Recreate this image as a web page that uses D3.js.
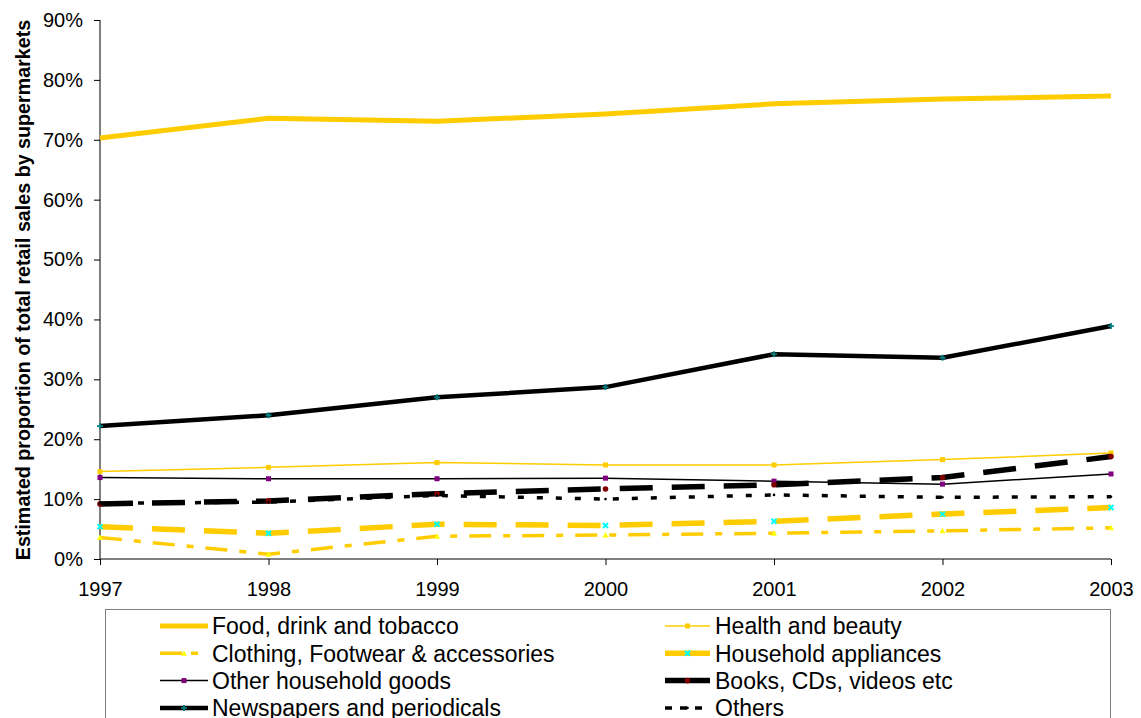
<!DOCTYPE html>
<html><head><meta charset="utf-8">
<script src="https://cdn.jsdelivr.net/npm/d3@7"></script>
<style>body{margin:0;background:#fff}svg{display:block}text{font-family:"Liberation Sans",Arial,sans-serif}</style>
</head><body>
<svg id="c" width="1141" height="718"></svg>
<script>
const years = [1997,1998,1999,2000,2001,2002,2003];
const yTicks = [0,10,20,30,40,50,60,70,80,90];
const food = [70.3,73.6,73.1,74.3,76.0,76.8,77.3];
const health = [14.6,15.3,16.1,15.7,15.7,16.6,17.7];
const clothing = [3.6,0.8,3.8,4.0,4.3,4.7,5.2];
const appliances = [5.4,4.3,5.8,5.6,6.3,7.5,8.6];
const otherHousehold = [13.6,13.4,13.4,13.5,13.0,12.5,14.2];
const books = [9.2,9.7,10.9,11.7,12.4,13.6,17.1];
const newspapers = [22.2,24.0,27.0,28.7,34.2,33.6,38.9];
const others = [9.3,9.5,10.6,10.0,10.7,10.3,10.4];
const seriesNames = ["Food, drink and tobacco","Health and beauty","Clothing, Footwear & accessories","Household appliances","Other household goods","Books, CDs, videos etc","Newspapers and periodicals","Others"];

const GOLD="#FFCC00";
const series = [
  {name:seriesNames[0], v:food, color:GOLD, w:5, dash:null, ldash:null, marker:null},
  {name:seriesNames[1], v:health, color:GOLD, w:1.5, dash:null, ldash:null, marker:"square", mc:GOLD},
  {name:seriesNames[2], v:clothing, color:GOLD, w:3.5, dash:"22,12,7,12", ldash:"22,9,7,60", marker:"triangle", mc:"#FFFF00"},
  {name:seriesNames[3], v:appliances, color:GOLD, w:5.5, dash:"33,19", ldash:null, marker:"x", mc:"#00FFFF"},
  {name:seriesNames[4], v:otherHousehold, color:"#000", w:1.5, dash:null, ldash:null, marker:"square", mc:"#800080"},
  {name:seriesNames[5], v:books, color:"#000", w:5.5, dash:"33,19", ldash:null, marker:"circle", mc:"#800000"},
  {name:seriesNames[6], v:newspapers, color:"#000", w:4.5, dash:null, ldash:null, marker:"plus", mc:"#008080"},
  {name:seriesNames[7], v:others, color:"#000", w:3.5, dash:"6,13", ldash:"7,8", marker:"dot", mc:"#000"}
];

const svg = d3.select("#c");
const x = d3.scaleLinear().domain([1997,2003]).range([100,1111]);
const y = d3.scaleLinear().domain([0,90]).range([559,20]);

// axes
const yAxis = d3.axisLeft(y).tickValues(yTicks).tickSize(6).tickFormat(d=>d+"%");
const gy = svg.append("g").attr("transform","translate(100,0)").call(yAxis);
gy.select(".domain").attr("stroke","#000").attr("d","M0,20V559");
gy.selectAll("text").attr("font-size",20).attr("fill","#000").attr("x",-17);
const xAxis = d3.axisBottom(x).tickValues(years).tickSize(6).tickFormat(d3.format("d"));
const gx = svg.append("g").attr("transform","translate(0,559)").call(xAxis);
gx.select(".domain").attr("stroke","#000").attr("d","M100,0H1111");
gx.selectAll("text").attr("font-size",20).attr("fill","#000").attr("y",37).attr("dy",null);

svg.append("text").attr("transform","translate(30,290) rotate(-90)").attr("text-anchor","middle")
  .attr("font-size",19.7).attr("font-weight","bold").text("Estimated proportion of total retail sales by supermarkets");

function drawMarker(g, type, cx, cy, c){
  if(!type) return;
  if(type==="square") g.append("rect").attr("x",cx-2.5).attr("y",cy-2.5).attr("width",5).attr("height",5).attr("fill",c);
  else if(type==="triangle") g.append("path").attr("d",`M${cx},${cy-3}L${cx+3},${cy+2.5}L${cx-3},${cy+2.5}Z`).attr("fill",c);
  else if(type==="x") g.append("path").attr("d",`M${cx-2.5},${cy-2.5}L${cx+2.5},${cy+2.5}M${cx+2.5},${cy-2.5}L${cx-2.5},${cy+2.5}`).attr("stroke",c).attr("stroke-width",2);
  else if(type==="circle") g.append("circle").attr("cx",cx).attr("cy",cy).attr("r",2.8).attr("fill",c);
  else if(type==="plus") g.append("path").attr("d",`M${cx-3},${cy}H${cx+3}M${cx},${cy-3}V${cy+3}`).attr("stroke",c).attr("stroke-width",1.8);
  else if(type==="dot") g.append("circle").attr("cx",cx).attr("cy",cy).attr("r",1.3).attr("fill",c);
}

const line = d3.line().x((d,i)=>x(years[i])).y(d=>y(d));
const plot = svg.append("g");
series.forEach(s=>{
  plot.append("path").attr("d",line(s.v)).attr("fill","none").attr("stroke",s.color)
    .attr("stroke-width",s.w).attr("stroke-dasharray",s.dash).attr("stroke-linejoin","round");
  s.v.forEach((d,i)=>drawMarker(plot,s.marker,x(years[i]),y(d),s.mc));
});

// legend
const lg = svg.append("g");
lg.append("rect").attr("x",105.5).attr("y",609.5).attr("width",1005).attr("height",120).attr("fill","#fff").attr("stroke","#808080").attr("stroke-width",1);
series.forEach((s,i)=>{
  const col = i%2, row = Math.floor(i/2);
  const lx = col===0?160:665, tx = col===0?212:715, ly = 626+row*27.3;
  const ll = col===0?48:45;
  lg.append("path").attr("d",`M${lx},${ly}H${lx+ll}`).attr("stroke",s.color).attr("stroke-width",s.w)
    .attr("stroke-dasharray",s.ldash);
  drawMarker(lg,s.marker,lx+ll/2,ly,s.mc);
  lg.append("text").attr("x",tx).attr("y",ly).attr("dy","0.36em").attr("font-size",23).text(s.name);
});
</script>
</body></html>
